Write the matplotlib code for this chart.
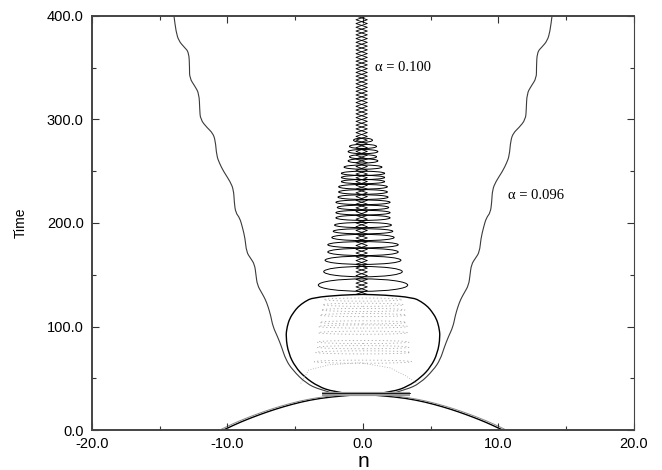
import numpy as np
import matplotlib
matplotlib.use("Agg")
import matplotlib.pyplot as plt
from matplotlib.patches import Ellipse, PathPatch
from matplotlib.path import Path
from matplotlib.ticker import MultipleLocator, FormatStrFormatter

plt.rcParams['font.family'] = ['Liberation Sans', 'DejaVu Sans']
plt.rcParams['axes.unicode_minus'] = False

# ---------------- data ----------------
# incoming kink (right one; the left one is its mirror image)
t_in = [0, 5, 10, 15, 20, 25, 29, 32, 34.5]
n_in = [10.3, 9.5, 8.6, 7.6, 6.5, 5.2, 3.9, 2.4, 0.0]

# alpha = 0.096 : outgoing trajectory (right branch)
t_096 = [34, 39, 45, 58, 68, 80, 90, 100, 110, 119, 126, 132, 140, 150, 160, 166,
         172, 185, 196, 205, 210, 220, 232, 240, 250, 258, 265, 280, 287, 292, 300,
         310, 325, 332, 340, 350, 365, 370, 376, 385, 400]
n_096 = [1.8, 3.2, 4.2, 5.2, 5.7, 6.0, 6.3, 6.65, 6.8, 7.0, 7.2, 7.45, 7.8, 7.9, 8.0, 8.3,
         8.6, 8.7, 8.9, 9.1, 9.4, 9.5, 9.55, 9.8, 10.3, 10.6, 10.8, 10.9, 11.1, 11.5, 12.0,
         12.05, 12.1, 12.4, 12.8, 12.8, 12.85, 13.2, 13.6, 13.8, 13.95]

# alpha = 0.100 : bound pair, first large loop (right half)
t_bulb = [34.5, 37, 42, 51, 61, 74, 90, 100, 108, 114, 119, 124, 128, 130.5, 131]
n_bulb = [0.8, 2.2, 3.3, 4.3, 5.0, 5.5, 5.7, 5.6, 5.4, 5.1, 4.8, 4.3, 3.7, 1.5, 0.0]

# alpha = 0.100 : breather loops (centre time, half width, height)
br_t = [140, 153, 164, 172, 179, 186, 192, 198, 205, 210, 215, 220, 225, 230,
        235, 240, 244, 248, 254, 260, 264, 269, 274, 280]
br_a = [3.3, 2.9, 2.8, 2.6, 2.6, 2.3, 2.2, 2.1, 2.0, 2.0, 1.9, 2.0, 1.85, 1.8,
        1.8, 1.6, 1.6, 1.6, 1.4, 1.1, 1.0, 1.1, 1.0, 0.7]
br_h = [12, 10, 8, 7, 6, 6, 5, 5, 5, 4.5, 4.5, 4.5, 4.5, 4.5,
        4.5, 4, 4, 4, 4, 4, 4, 4, 4, 4]

# central oscillation chain
chain_start, chain_end, chain_links = 131, 400, 75
chain_amp = 0.42

# faint inner pattern of the first loop
in_t = [66, 75, 80, 85, 94, 100, 104, 111, 116, 121, 126]
in_a = [3.6, 3.5, 3.4, 3.4, 3.3, 3.3, 3.2, 3.2, 3.1, 3.0, 2.9]
arc_n = [-4.6, -4.0, -2.5, -0.2, 2.0, 3.2, 4.0]
arc_t = [45, 58, 63, 65, 60, 52, 45]

labels = [(0.9, 350, "\u03b1 = 0.100"), (10.7, 227, "\u03b1 = 0.096")]


def smooth_path(x, y):
    """Quadratic-Bezier path that uses the read points as control points."""
    pts = np.column_stack([x, y])
    verts = [pts[0]]
    codes = [Path.MOVETO]
    for i in range(1, len(pts) - 1):
        verts += [pts[i], (pts[i] + pts[i + 1]) / 2]
        codes += [Path.CURVE3, Path.CURVE3]
    verts.append(pts[-1])
    codes.append(Path.LINETO)
    return Path(verts, codes)


def add_curve(ax, x, y, **kw):
    ax.add_patch(PathPatch(smooth_path(x, y), fill=False, **kw))


# ---------------- figure ----------------
fig = plt.figure(figsize=(6.62, 4.70), dpi=100)
ax = fig.add_axes([92/662, 1 - 430/470, (634 - 92)/662, (430 - 16)/470])

n_in_a = np.array(n_in)
t_in_a = np.array(t_in)
# incoming kinks
add_curve(ax, n_in_a, t_in_a, edgecolor='black', lw=1.0)
add_curve(ax, -n_in_a, t_in_a, edgecolor='black', lw=1.0)
add_curve(ax, n_in_a + 0.15, t_in_a + 0.8, edgecolor='#888888', lw=0.7)
add_curve(ax, -n_in_a - 0.15, t_in_a + 0.8, edgecolor='#888888', lw=0.7)

# collision band
ax.plot([-3.0, 3.5], [34.5, 34.5], color='#999999', lw=3.0, solid_capstyle='butt')
ax.plot([-3.0, 3.5], [35.5, 35.5], color='black', lw=0.6)

# alpha = 0.096 branches
n096 = np.array(n_096)
t096 = np.array(t_096)
add_curve(ax, n096, t096, edgecolor='#3a3a3a', lw=0.8)
add_curve(ax, -n096, t096, edgecolor='#3a3a3a', lw=0.8)

# alpha = 0.100 first loop
nb = np.array(n_bulb)
tb = np.array(t_bulb)
add_curve(ax, nb, tb, edgecolor='black', lw=1.0)
add_curve(ax, -nb, tb, edgecolor='black', lw=1.0)

# inner faint pattern
for tc, a in zip(in_t, in_a):
    ax.add_patch(Ellipse((0, tc), 2 * a, 3.0, fill=False, edgecolor='#a8a8a8',
                         lw=0.6, linestyle=(0, (1.5, 3))))
ax.plot(arc_n, arc_t, color='#a8a8a8', lw=0.6, linestyle=(0, (1, 2)))

# breather loops
for tc, a, h in zip(br_t, br_a, br_h):
    ax.add_patch(Ellipse((0, tc), 2 * a, h, fill=False, edgecolor='black', lw=0.7))

# central chain
ct = np.linspace(chain_start, chain_end, chain_links)
sign = np.where(np.arange(chain_links) % 2 == 0, 1.0, -1.0)
ax.plot(chain_amp * sign - 0.1, ct, color='black', lw=0.6)
ax.plot(-chain_amp * sign - 0.1, ct, color='black', lw=0.6)

for x, y, s in labels:
    ax.text(x, y, s, fontsize=10.5, family=['Liberation Serif', 'DejaVu Serif'],
            ha='left', va='center')

ax.set_xlim(-20, 20)
ax.set_ylim(0, 400)
ax.xaxis.set_major_locator(MultipleLocator(10))
ax.xaxis.set_minor_locator(MultipleLocator(5))
ax.yaxis.set_major_locator(MultipleLocator(100))
ax.yaxis.set_minor_locator(MultipleLocator(50))
ax.xaxis.set_major_formatter(FormatStrFormatter('%.1f'))
ax.yaxis.set_major_formatter(FormatStrFormatter('%.1f'))
ax.tick_params(which='both', direction='in', top=True, right=True,
               colors='#333333', labelcolor='black', labelsize=10.5)
ax.tick_params(which='major', length=5, width=0.8)
ax.tick_params(which='minor', length=3, width=0.8)
ax.tick_params(axis='x', pad=5)
ax.tick_params(axis='y', pad=6)
for side in ['left', 'bottom', 'top']:
    ax.spines[side].set_linewidth(1.4)
    ax.spines[side].set_color('#444444')
ax.spines['right'].set_linewidth(0.8)
ax.spines['right'].set_color('#444444')

ax.set_xlabel('n', fontsize=15, va='top')
ax.xaxis.set_label_coords(0.5, -(452 - 430) / 414)
ax.set_ylabel('Time', fontsize=10, labelpad=14)

fig.savefig('out.png', dpi=100)
